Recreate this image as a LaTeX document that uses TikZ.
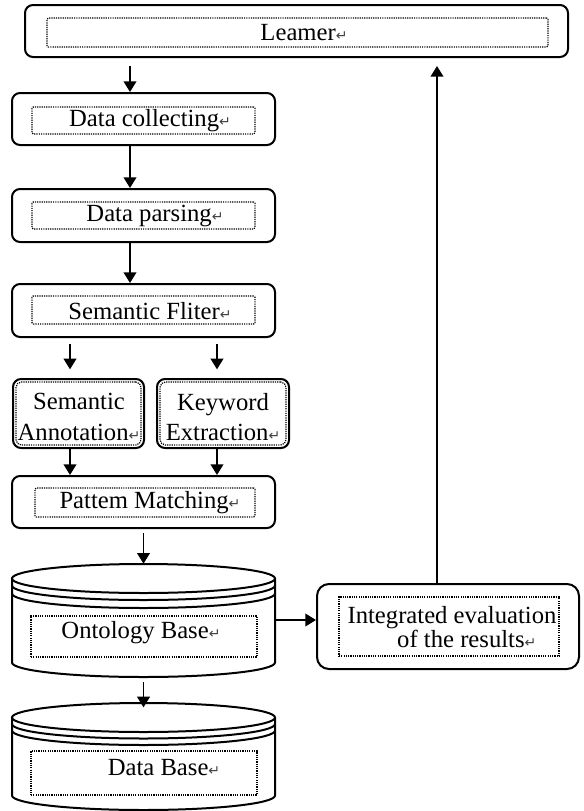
\documentclass[tikz,border=0pt]{standalone}
\usepackage{fontspec}
\setmainfont{Liberation Serif}
\newfontfamily\symfont{DejaVu Sans}
\usetikzlibrary{arrows.meta}
\newcommand\retmark{{\symfont\fontsize{10.5}{10}\selectfont\textcolor{black!75}{↵}}}
\begin{document}
\begin{tikzpicture}[x=0.75pt,y=-0.75pt,
 outerbox/.style={draw, line width=1.5pt, rounded corners=6pt, inner sep=0pt},
 innerbox/.style={draw, line width=0.9pt, dash pattern=on 0.9pt off 0.8pt, inner sep=0pt, rounded corners=1pt},
 lbl/.style={font=\fontsize{18.5}{23}\selectfont, inner sep=0pt, align=center},
 ghost/.style={inner sep=0pt},
 arr/.style={line width=1.3pt, -{Triangle[length=8pt,width=9.5pt]}},
 cyl/.style={line width=1.5pt},
 ell/.style={x radius=98.625pt, y radius=10.875pt}]
\useasboundingbox (0,0) rectangle (583,811);

% column coordinates
\coordinate (colA) at (130,0);
\coordinate (colL) at (70,0);
\coordinate (colR) at (217,0);
\coordinate (colU) at (437,0);
\coordinate (rowO) at (0,620);

% Learner
\node[outerbox, minimum width=407.25pt, minimum height=39pt] (learner) at (296.5,31) {};
\node[innerbox, minimum width=375.75pt, minimum height=21.75pt] (learnerin) at (297.5,32.5) {};
\node[lbl] (learnert) at (304,33) {Leamer\retmark};

% Data collecting
\node[outerbox, minimum width=197.25pt, minimum height=39pt] (dc) at (143.5,119) {};
\node[innerbox, minimum width=167.25pt, minimum height=20.25pt] (dcin) at (143.5,120.5) {};
\node[lbl] (dct) at (150,121) {Data collecting\retmark};

% Data parsing
\node[outerbox, minimum width=197.25pt, minimum height=39.75pt] (dp) at (143.5,215.5) {};
\node[innerbox, minimum width=167.25pt, minimum height=20.25pt] (dpin) at (143.5,215.5) {};
\node[lbl] (dpt) at (155,216) {Data parsing\retmark};

% Semantic Fliter
\node[outerbox, minimum width=197.25pt, minimum height=39.75pt] (sf) at (143.5,310.5) {};
\node[innerbox, minimum width=167.25pt, minimum height=21pt] (sfin) at (143.5,310) {};
\node[lbl] (sft) at (150,311) {Semantic Fliter\retmark};

% Semantic Annotation
\node[outerbox, minimum width=98.25pt, minimum height=51.75pt] (sa) at (78.5,413.5) {};
\node[innerbox, minimum width=93.75pt, minimum height=47.25pt, rounded corners=4pt] (sain) at (78.5,413.5) {};
\node[lbl] (sat) at (79,417) {Semantic\\Annotation\retmark};

% Keyword Extraction
\node[outerbox, minimum width=99pt, minimum height=51.75pt] (ke) at (223,413.5) {};
\node[innerbox, minimum width=94.5pt, minimum height=47.25pt, rounded corners=4pt] (kein) at (223,413.5) {};
\node[lbl] (ket) at (223,417) {Keyword\\Extraction\retmark};

% Pattern Matching
\node[outerbox, minimum width=197.25pt, minimum height=39pt] (pm) at (143.5,502) {};
\node[innerbox, minimum width=165pt, minimum height=21.75pt] (pmin) at (145,502.5) {};
\node[lbl] (pmt) at (150,503) {Pattem Matching\retmark};

% Ontology Base cylinder
\node[ghost, minimum width=197.25pt, minimum height=84.75pt] (onto) at (143.5,620.5) {};
\draw[cyl] (143.5,578.5) ellipse[ell];
\draw[cyl] (12,585.5) arc[start angle=180, end angle=360, ell];
\draw[cyl] (12,593.5) arc[start angle=180, end angle=360, ell];
\draw[cyl] (12,578.5) -- (12,662.5) arc[start angle=180, end angle=360, ell] -- (275,578.5);
\node[innerbox, rounded corners=0pt, minimum width=169.5pt, minimum height=30.75pt] (ontoin) at (144,636.5) {};
\node[lbl] (ontot) at (141,633) {Ontology Base\retmark};

% Data Base cylinder
\node[ghost, minimum width=197.25pt, minimum height=80.25pt] (dbase) at (143.5,756.5) {};
\draw[cyl] (143.5,717.5) ellipse[ell];
\draw[cyl] (12,724) arc[start angle=180, end angle=360, ell];
\draw[cyl] (12,730.5) arc[start angle=180, end angle=360, ell];
\draw[cyl] (12,717.5) -- (12,795.5) arc[start angle=180, end angle=360, ell] -- (275,717.5);
\node[innerbox, rounded corners=0pt, minimum width=169.5pt, minimum height=33pt] (dbasein) at (144,773) {};
\node[lbl] (dbaset) at (164,768) {Data Base\retmark};

% Integrated evaluation
\node[outerbox, minimum width=196.5pt, minimum height=63.75pt, rounded corners=9pt] (integ) at (448,626.5) {};
\node[innerbox, rounded corners=0pt, minimum width=165pt, minimum height=44.25pt] (integin) at (449,626.5) {};
\node[lbl, font=\fontsize{18.5}{17.5}\selectfont] (integt) at (452,627) {Integrated evaluation\\\hspace*{1.2em}of the results\retmark};

% connectors
\draw[arr, shorten <=6pt] (learner.south -| colA) -- (dc.north -| colA);
\draw[arr] (dc.south -| colA) -- (dp.north -| colA);
\draw[arr] (dp.south -| colA) -- (sf.north -| colA);
\draw[arr, shorten <=4.5pt, shorten >=6.5pt] (sf.south -| colL) -- (sa.north -| colL);
\draw[arr, shorten <=4.5pt, shorten >=6.5pt] (sf.south -| colR) -- (ke.north -| colR);
\draw[arr] (sa.south -| colL) -- (pm.north -| colL);
\draw[arr] (ke.south -| colR) -- (pm.north -| colR);
\draw[arr, shorten <=3pt] (pm.south) -- (onto.north);
\draw[arr] (onto.east |- rowO) -- (integ.west |- rowO);
\draw[arr, shorten <=3.75pt, shorten >=-3.5pt] (onto.south) -- (dbase.north);
\draw[arr, shorten >=6pt] (integ.north -| colU) -- (learner.south -| colU);
\end{tikzpicture}
\end{document}
